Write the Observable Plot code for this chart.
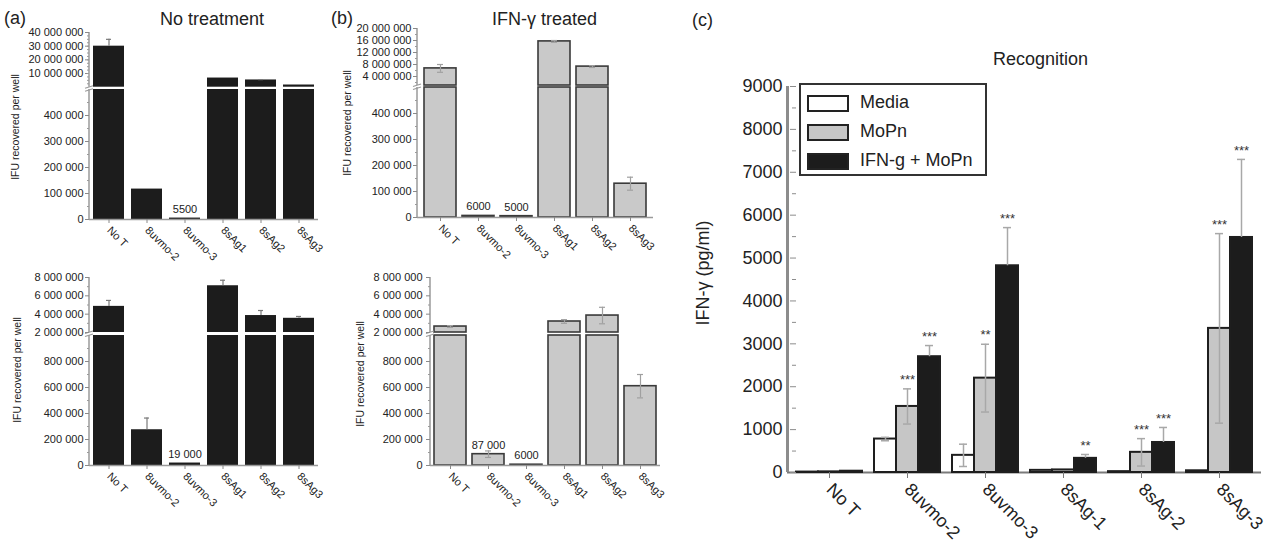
<!DOCTYPE html>
<html><head><meta charset="utf-8">
<script src="https://cdn.jsdelivr.net/npm/d3@7"></script>
<script src="https://cdn.jsdelivr.net/npm/@observablehq/plot@0.6"></script>
<style>
body{margin:0;background:#fff;}
#root{position:relative;width:1272px;height:543px;overflow:hidden;font-family:"Liberation Sans",Arial,Helvetica,sans-serif;color:#222;background:#fff;}
.txt{position:absolute;white-space:nowrap;line-height:1;}
.vtxt{position:absolute;white-space:nowrap;line-height:1;transform:translate(-50%,-50%) rotate(-90deg);}
</style></head><body><div id="root"></div>
<script>
// ---------- data ----------
const catsAB = ["No T", "8uvmo-2", "8uvmo-3", "8sAg1", "8sAg2", "8sAg3"];
// (a) No treatment, upper experiment
const aTopVals = [30000000, 117000, 5500, 6700000, 5300000, 1600000];
const aTopErrs = [5000000, 0, 0, 0, 250000, 0];
// (a) No treatment, lower experiment
const aBotVals = [4850000, 275000, 19000, 7100000, 3850000, 3550000];
const aBotErrs = [650000, 90000, 0, 600000, 550000, 200000];
// (b) IFN-γ treated, upper experiment
const bTopVals = [6700000, 6000, 5000, 15700000, 7300000, 130000];
const bTopErrs = [1300000, 0, 0, 300000, 300000, 25000];
// (b) IFN-γ treated, lower experiment
const bBotVals = [2650000, 87000, 6000, 3200000, 3850000, 610000];
const bBotErrs = [100000, 25000, 0, 200000, 900000, 90000];

// (c) Recognition
const groupsC = ["No T", "8uvmo-2", "8uvmo-3", "8sAg-1", "8sAg-2", "8sAg-3"];
const seriesC = ["Media", "MoPn", "IFN-g + MoPn"];
const colorsC = ["#ffffff", "#c6c6c6", "#1c1c1c"];
const mediaVals = [10, 780, 400, 50, 20, 40];
const mopnVals = [15, 1540, 2200, 60, 470, 3360];
const ifnVals = [30, 2700, 4820, 330, 700, 5480];
const mediaErrs = [0, 40, 260, 0, 0, 0];
const mopnErrs = [0, 410, 790, 0, 320, 2210];
const ifnErrs = [0, 260, 890, 90, 350, 1820];
const mediaStars = ["", "", "", "", "", ""];
const mopnStars = ["", "***", "**", "", "***", "***"];
const ifnStars = ["", "***", "***", "**", "***", "***"];
const errUpOnly = [false, false, true];

// ---------- helpers ----------
const root = document.getElementById("root");
const FONT = '"Liberation Sans", Arial, Helvetica, sans-serif';
const fmtSpace = d => d3.format(",")(d).replace(/,/g, " ");
const fmtLabel = d => d < 10000 ? String(d) : fmtSpace(d);
const SVGNS = "http://www.w3.org/2000/svg";

function put(el, left, top) {
  el.style.position = "absolute";
  el.style.left = left + "px";
  el.style.top = top + "px";
  root.appendChild(el);
}
function addText(txt, left, top, size) {
  const d = document.createElement("div");
  d.className = "txt"; d.textContent = txt;
  d.style.left = left + "px"; d.style.top = top + "px"; d.style.fontSize = size + "px";
  root.appendChild(d);
}
function addVText(txt, cx, cy, size) {
  const d = document.createElement("div");
  d.className = "vtxt"; d.textContent = txt;
  d.style.left = cx + "px"; d.style.top = cy + "px"; d.style.fontSize = size + "px";
  root.appendChild(d);
}
function svgLine(x1, y1, x2, y2, stroke, width) {
  const l = document.createElementNS(SVGNS, "line");
  l.setAttribute("x1", x1); l.setAttribute("x2", x2);
  l.setAttribute("y1", y1); l.setAttribute("y2", y2);
  l.setAttribute("stroke", stroke); l.setAttribute("stroke-width", width);
  return l;
}
// left axis line of a segment; top segments also get the small break symbol
function leftLine(stroke, width, withBreak) {
  return (index, scales, values, dims) => {
    const g = document.createElementNS(SVGNS, "g");
    const x = dims.marginLeft, y0 = dims.marginTop, y1 = dims.height - dims.marginBottom;
    g.appendChild(svgLine(x, y0, x, y1, stroke, width));
    if (withBreak) {
      g.appendChild(svgLine(x - 4, y1 + 1.5, x + 4, y1 - 1, stroke, 1.2));
      g.appendChild(svgLine(x - 4, y1 + 4.5, x + 4, y1 + 2, stroke, 1.2));
    }
    return g;
  };
}
const baseStyle = {background: "transparent", overflow: "visible", fontFamily: FONT, color: "#222", maxWidth: "none"};

function segment(p) {
  const rows = p.cats.map((cat, i) => ({cat, v: p.vals[i], e: p.errs[i]}));
  const [lo, hi] = p.domain;
  const top = p.part === "top";
  const shown = d => top ? d.v > p.breakAt : true;
  const barRows = rows.filter(d => shown(d) && d.v > lo);
  const errRows = rows.filter(d => d.e > 0 && shown(d) && d.v > lo && d.v <= hi);
  const marks = [
    Plot.barY(barRows, {x: "cat", y1: top ? lo : 0, y2: d => Math.min(d.v, hi),
      fill: p.fill, stroke: p.stroke, strokeWidth: p.strokeWidth}),
    Plot.ruleX(errRows, {x: "cat", y1: d => p.errBoth ? d.v - d.e : d.v, y2: d => d.v + d.e,
      stroke: p.errColor, strokeWidth: 1.2}),
    Plot.tickY(errRows, {x: "cat", y: d => d.v + d.e, stroke: p.errColor, strokeWidth: 1.2, insetLeft: 13, insetRight: 13})
  ];
  if (p.errBoth) marks.push(Plot.tickY(errRows, {x: "cat", y: d => d.v - d.e, stroke: p.errColor, strokeWidth: 1.2, insetLeft: 13, insetRight: 13}));
  marks.push(leftLine("#9a9a9a", 1.5, top));
  marks.push(Plot.axisY(p.major, {tickFormat: fmtSpace, tickSize: 4, tickPadding: p.tickPadding, fontSize: 11, stroke: "#8a8a8a", fill: "#222", label: null}));
  marks.push(Plot.axisY(p.minor, {tickFormat: () => "", tickSize: 2, stroke: "#9a9a9a", label: null}));
  if (!top) {
    marks.push(Plot.ruleY([0], {stroke: "#9a9a9a", strokeWidth: 1.5}));
    marks.push(Plot.text(rows.filter(d => d.v < 90000), {x: "cat", y: "v", text: d => fmtLabel(d.v), dy: -9, fontSize: 11, fill: "#222"}));
    marks.push(Plot.axisX({tickRotate: 45, tickSize: 4, tickPadding: 5, fontSize: 11, stroke: "#8a8a8a", fill: "#222", label: null}));
  }
  const chart = Plot.plot({
    width: p.width, height: p.height,
    marginLeft: p.ml, marginRight: p.mr, marginTop: p.mt, marginBottom: p.mb,
    x: {domain: p.cats, paddingInner: p.pi, paddingOuter: p.po, axis: top ? null : undefined, label: null},
    y: {domain: p.domain, label: null},
    style: baseStyle,
    marks
  });
  put(chart, p.left, p.top);
}

// ---------- panel (a) ----------
const black = {fill: "#1c1c1c", stroke: "none", strokeWidth: 0, errColor: "#7a7a7a", errBoth: false};
segment({...black, part: "bottom", cats: catsAB, vals: aTopVals, errs: aTopErrs, domain: [0, 500000],
  major: d3.range(0, 400001, 100000), minor: d3.range(50000, 500000, 100000),
  left: 0, top: 80, width: 330, height: 190, ml: 89, mr: 12, mt: 9, mb: 51, pi: 0.18, po: 0.1, tickPadding: 2});
segment({...black, part: "top", breakAt: 500000, cats: catsAB, vals: aTopVals, errs: aTopErrs, domain: [0, 40000000],
  major: d3.range(10000000, 40000001, 10000000), minor: d3.range(2500000, 40000000, 2500000),
  left: 0, top: 22, width: 330, height: 70, ml: 89, mr: 12, mt: 10, mb: 5.3, pi: 0.18, po: 0.1, tickPadding: 2});
segment({...black, part: "bottom", cats: catsAB, vals: aBotVals, errs: aBotErrs, domain: [0, 1000000],
  major: d3.range(0, 800001, 200000), minor: d3.range(100000, 1000000, 200000),
  left: 0, top: 325, width: 330, height: 190, ml: 89, mr: 12, mt: 10, mb: 50, pi: 0.18, po: 0.1, tickPadding: 2});
segment({...black, part: "top", breakAt: 1000000, cats: catsAB, vals: aBotVals, errs: aBotErrs, domain: [2000000, 8000000],
  major: d3.range(2000000, 8000001, 2000000), minor: d3.range(3000000, 8000000, 2000000),
  left: 0, top: 265, width: 330, height: 72, ml: 89, mr: 12, mt: 12, mb: 5, pi: 0.18, po: 0.1, tickPadding: 2});

// ---------- panel (b) ----------
const gray = {fill: "#c9c9c9", stroke: "#3a3a3a", strokeWidth: 1.6, errColor: "#a0a0a0", errBoth: true};
segment({...gray, part: "bottom", cats: catsAB, vals: bTopVals, errs: bTopErrs, domain: [0, 500000],
  major: d3.range(0, 400001, 100000), minor: d3.range(50000, 500000, 100000),
  left: 330, top: 77, width: 330, height: 190, ml: 87, mr: 7, mt: 10, mb: 50, pi: 0.17, po: 0.16, tickPadding: 2});
segment({...gray, part: "top", breakAt: 500000, cats: catsAB, vals: bTopVals, errs: bTopErrs, domain: [1000000, 20000000],
  major: d3.range(4000000, 20000001, 4000000), minor: d3.range(2000000, 20000000, 4000000),
  left: 330, top: 18, width: 330, height: 72, ml: 87, mr: 7, mt: 10, mb: 5, pi: 0.17, po: 0.16, tickPadding: 2});
segment({...gray, part: "bottom", cats: catsAB, vals: bBotVals, errs: bBotErrs, domain: [0, 1000000],
  major: d3.range(0, 800001, 200000), minor: d3.range(100000, 1000000, 200000),
  left: 330, top: 325, width: 340, height: 190, ml: 100, mr: 10, mt: 10, mb: 50, pi: 0.17, po: 0.08, tickPadding: 4});
segment({...gray, part: "top", breakAt: 1000000, cats: catsAB, vals: bBotVals, errs: bBotErrs, domain: [2000000, 8000000],
  major: d3.range(2000000, 8000001, 2000000), minor: d3.range(3000000, 8000000, 2000000),
  left: 330, top: 265, width: 340, height: 72, ml: 100, mr: 10, mt: 12, mb: 5, pi: 0.17, po: 0.08, tickPadding: 4});

// ---------- panel (c) ----------
const valsC = [mediaVals, mopnVals, ifnVals];
const errsC = [mediaErrs, mopnErrs, ifnErrs];
const starsC = [mediaStars, mopnStars, ifnStars];
const rowsC = groupsC.flatMap((g, i) => seriesC.map((s, j) => ({g, s, v: valsC[j][i], e: errsC[j][i], star: starsC[j][i], up: errUpOnly[j]})));
const errRowsC = rowsC.filter(d => d.e > 0);
const dimsC = {width: 582, height: 543, marginLeft: 97, marginRight: 11, marginTop: 86, marginBottom: 71};

const axesC = Plot.plot({
  ...dimsC,
  x: {domain: [0, 1], axis: null},
  y: {domain: [0, 9000], axis: null},
  style: baseStyle,
  marks: [
    Plot.ruleY([0], {stroke: "#7a7a7a", strokeWidth: 2}),
    Plot.ruleX([0], {stroke: "#8c8c8c", strokeWidth: 3})
  ]
});
put(axesC, 690, 0);

const chartC = Plot.plot({
  ...dimsC,
  fx: {domain: groupsC, paddingInner: 0.16, paddingOuter: 0.1, label: null},
  x: {domain: seriesC, padding: 0, axis: null},
  y: {domain: [0, 9000], label: null},
  color: {domain: seriesC, range: colorsC},
  style: baseStyle,
  marks: [
    Plot.barY(rowsC, {fx: "g", x: "s", y: "v", fill: "s", stroke: "#1e1e1e", strokeWidth: 2}),
    Plot.ruleX(errRowsC, {fx: "g", x: "s", y1: d => d.up ? d.v : d.v - d.e, y2: d => d.v + d.e, stroke: "#a8a8a8", strokeWidth: 1.5}),
    Plot.tickY(errRowsC, {fx: "g", x: "s", y: d => d.v + d.e, stroke: "#a8a8a8", strokeWidth: 1.5, insetLeft: 7, insetRight: 7}),
    Plot.tickY(errRowsC.filter(d => !d.up), {fx: "g", x: "s", y: d => d.v - d.e, stroke: "#a8a8a8", strokeWidth: 1.5, insetLeft: 7, insetRight: 7}),
    Plot.text(rowsC.filter(d => d.star), {fx: "g", x: "s", y: d => d.v + d.e, text: "star", dy: -9, fontSize: 13, fill: "#333"}),
    Plot.axisY(d3.range(0, 9001, 1000), {tickSize: 6, tickPadding: 8, fontSize: 18, tickFormat: d => String(d), stroke: "#8c8c8c", fill: "#222", label: null}),
    Plot.axisY(d3.range(500, 9000, 1000), {tickSize: 4, tickFormat: () => "", stroke: "#8c8c8c", label: null}),
    Plot.axisFx({anchor: "bottom", tickRotate: 45, tickSize: 6, tickPadding: 8, fontSize: 18, stroke: "#7a7a7a", fill: "#222", label: null})
  ]
});
put(chartC, 690, 0);

// ---------- titles, labels, legend ----------
addText("(a)", 4, 9, 18);
addText("No treatment", 160, 10, 18);
addText("(b)", 331, 9, 18);
addText("IFN-γ treated", 492, 10, 18);
addText("(c)", 692, 11, 18);
addText("Recognition", 993, 50, 18);
addVText("IFU recovered per well", 15, 127, 10.5);
addVText("IFU recovered per well", 17, 370, 10.5);
addVText("IFU recovered per well", 347, 123, 10.5);
addVText("IFU recovered per well", 360, 374, 10.5);
addVText("IFN-γ (pg/ml)", 703, 273, 18);

const legend = document.createElement("div");
legend.style.cssText = "position:absolute;left:799px;top:83px;width:184px;height:89px;border:2px solid #333;background:#fff;";
seriesC.forEach((s, j) => {
  const sw = document.createElement("div");
  sw.style.cssText = `position:absolute;left:6px;top:${10 + j * 29}px;width:38px;height:13px;border:2px solid #222;background:${colorsC[j]};`;
  legend.appendChild(sw);
  const t = document.createElement("div");
  t.className = "txt"; t.textContent = s;
  t.style.cssText += `left:59px;top:${8 + j * 29}px;font-size:18px;`;
  legend.appendChild(t);
});
root.appendChild(legend);
</script></body></html>
